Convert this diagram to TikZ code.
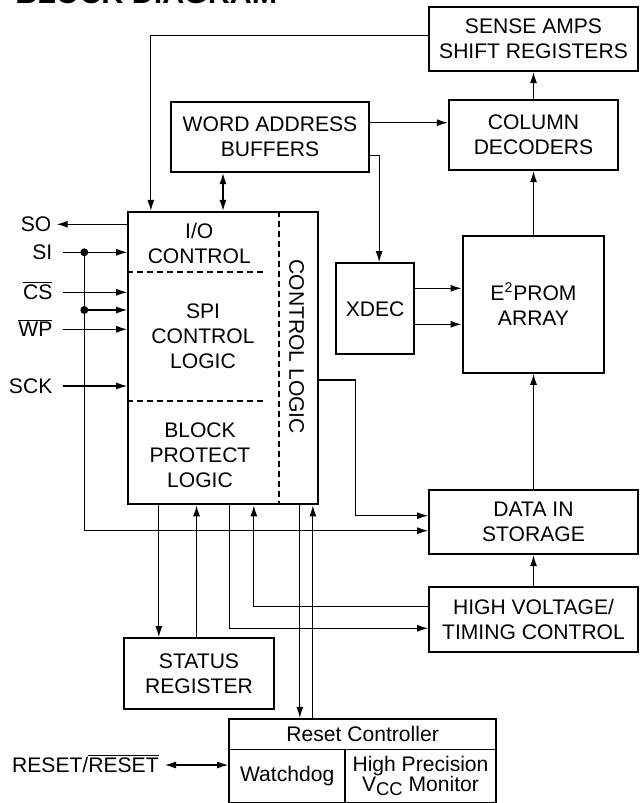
\documentclass[tikz,border=0pt]{standalone}
\usepackage{fontspec}
\setmainfont{Liberation Sans}
\usepackage{tikz}
\usetikzlibrary{calc}
\usetikzlibrary{arrows.meta}
\newcommand{\notsig}[1]{$\overline{\mbox{#1}}$}

\begin{document}
\begin{tikzpicture}[
    blk/.style  = {draw, line width=1.3pt, align=center, inner sep=0pt, font=\fontsize{12}{14.2}\selectfont},
    cell/.style = {draw, line width=0.6pt, align=center, inner sep=0pt, font=\fontsize{12}{14.2}\selectfont},
    lbl/.style  = {align=center, inner sep=0pt, font=\fontsize{12}{14.2}\selectfont},
    sig/.style  = {anchor=east, inner xsep=2mm, inner ysep=0pt, text height=8.6pt, text depth=0pt, font=\fontsize{12}{14.2}\selectfont},
    wire/.style = {line width=0.65pt},
    part/.style = {line width=1.1pt, dash pattern=on 0.12cm off 0.08cm},
    >={Latex[length=0.22cm, width=0.14cm]}
  ]
            \useasboundingbox (0.00, 0.00) rectangle (12.82,-16.06);
            \node[anchor=base west, inner sep=0pt, font=\bfseries\fontsize{17.3}{20}\selectfont] (title) at ( 0.30,-0.08) {BLOCK DIAGRAM};

            \node[blk, minimum width=4.180cm, minimum height=1.286cm] (sense)  at (10.67,-0.777)  {SENSE AMPS\\SHIFT REGISTERS};
            \node[blk, minimum width=3.380cm, minimum height=1.400cm] (cd)     at (10.67,-2.700)  {COLUMN\\DECODERS};
            \node[blk, minimum width=3.960cm, minimum height=1.400cm] (wab)    at ( 5.40,-2.740)  {WORD ADDRESS\\BUFFERS};
            \node[blk, minimum width=3.788cm, minimum height=5.846cm] (main)   at ( 4.46,-7.163)  {};
            \node[blk, minimum width=1.566cm, minimum height=1.820cm] (xdec)   at ( 7.503,-6.176) {XDEC};
            \node[blk, minimum width=2.832cm, minimum height=2.740cm] (eeprom) at (10.67,-6.084)  {E\textsuperscript{2}PROM\\ARRAY};
            \node[blk, minimum width=4.168cm, minimum height=1.280cm] (data)   at (10.67,-10.44)  {DATA IN\\STORAGE};
            \node[blk, minimum width=4.168cm, minimum height=1.288cm] (hv)     at (10.67,-12.39)  {HIGH VOLTAGE/\\TIMING CONTROL};
            \node[blk, minimum width=3.000cm, minimum height=1.414cm] (status) at ( 3.98,-13.473) {STATUS\\REGISTER};

            \node[cell, minimum width=5.334cm, minimum height=0.606cm] (rctl) at ( 7.253,-14.683) {Reset Controller};
            \node[cell, minimum width=2.314cm, minimum height=1.068cm] (wdog) at ( 5.743,-15.520) {Watchdog};
            \node[cell, minimum width=3.020cm, minimum height=1.068cm, font=\fontsize{12}{11.4}\selectfont] (vmon) at ( 8.410,-15.520)
                 {High Precision\\V\raisebox{-2.5pt}{\fontsize{10.5}{10.5}\selectfont CC} Monitor};
            \node[blk, minimum width=5.334cm, minimum height=1.674cm] (reset) at ( 7.253,-15.217) {};

            \draw[part] ([yshift=-12.26mm]main.north west) -- ++(2.794,0);
            \draw[part] ([yshift=-37.94mm]main.north west) -- ++(2.794,0);
            \draw[part] ([xshift=30.34mm]main.north west) -- ([xshift=30.34mm]main.south west);
            \node[lbl] (iotxt)  at ( 3.986,-4.874) {I/O\\CONTROL};
            \node[lbl] (spitxt) at ( 4.060,-6.724) {SPI\\CONTROL\\LOGIC};
            \node[lbl] (bptxt)  at ( 4.000,-9.103) {BLOCK\\PROTECT\\LOGIC};
            \node[lbl, rotate=-90] (cltxt) at ( 5.934,-6.934) {CONTROL LOGIC};

            \node[sig, inner xsep=1mm] (so) at ( 1.134,-4.486) {SO};
            \node[sig] (si)  at ( 1.254,-5.046) {SI};
            \node[sig] (cs)  at ( 1.254,-5.846) {\notsig{CS}};
            \node[sig] (wp)  at ( 1.254,-6.586) {\notsig{WP}};
            \node[sig] (sck) at ( 1.254,-7.720) {SCK};
            \node[sig, inner xsep=1.2mm] (rst) at ( 3.300,-15.300) {RESET/\notsig{RESET}};

            \coordinate (sidot) at ( 1.686,-5.046);
            \coordinate (wpdot) at ( 1.686,-6.200);
            \coordinate (wabhi) at ([yshift=2.86mm]wab.east);
            \coordinate (xdhi)  at ([yshift=4.10mm]xdec.east);
            \coordinate (xdlo)  at ([yshift=-3.10mm]xdec.east);
            \coordinate (bus1)  at ([xshift=6.34mm]main.south west);
            \coordinate (bus2)  at ([xshift=13.88mm]main.south west);
            \coordinate (bus3)  at ([xshift=20.48mm]main.south west);
            \coordinate (bus4)  at ([xshift=25.34mm]main.south west);
            \coordinate (bus5)  at ([xshift=34.54mm]main.south west);
            \coordinate (bus6)  at ([xshift=37.14mm]main.south west);

            \draw[wire,->] (so -| main.west) -- (so);
            \draw[wire,->] (si) -- (si -| main.west);
            \draw[wire,->] (cs) -- (cs -| main.west);
            \draw[wire,->] (wp) -- (wp -| main.west);
            \draw[wire,->] (sck) -- (sck -| main.west);
            \draw[wire,->] (wpdot) -- (wpdot -| main.west);
            \draw[wire,->] (sidot) |- ([yshift=-1.74mm]data.west);
            \fill (sidot) circle (0.08);
            \fill (wpdot) circle (0.08);

            \draw[wire,->] ([yshift=0.6mm]sense.west) -| ([xshift=4.74mm]main.north west);
            \draw[wire,<->] (main.north |- wab.south) -- (main.north);
            \draw[wire,->] (wabhi) -- (wabhi -| cd.west);
            \draw[wire,->] ([yshift=-3.74mm]wab.east) -| ([xshift=0.8mm]xdec.north);
            \draw[wire,->] (xdhi) -- (xdhi -| eeprom.west);
            \draw[wire,->] (xdlo) -- (xdlo -| eeprom.west);
            \draw[wire,->] (cd.north) -- (sense.south);
            \draw[wire,->] (eeprom.north) -- (cd.south);
            \draw[wire,->] (data.north) -- (eeprom.south);
            \draw[wire,->] (hv.north) -- (data.south);
            \draw[wire,->] ([yshift=-4.37mm]main.east) -- ++(0.732,0) |- ([yshift=1.26mm]data.west);

            \draw[wire,->] (bus1) -- (bus1 |- status.north);
            \draw[wire,->] (bus2 |- status.north) -- (bus2);
            \draw[wire,->] (bus3) |- ([yshift=-1.76mm]hv.west);
            \draw[wire,->] ([yshift=2.56mm]hv.west) -| (bus4);
            \draw[wire,->] (bus5) -- (bus5 |- reset.north);
            \draw[wire,->] (bus6 |- reset.north) -- (bus6);
            \draw[wire,<->] (rst) -- (rst -| reset.west);
\end{tikzpicture}
\end{document}
